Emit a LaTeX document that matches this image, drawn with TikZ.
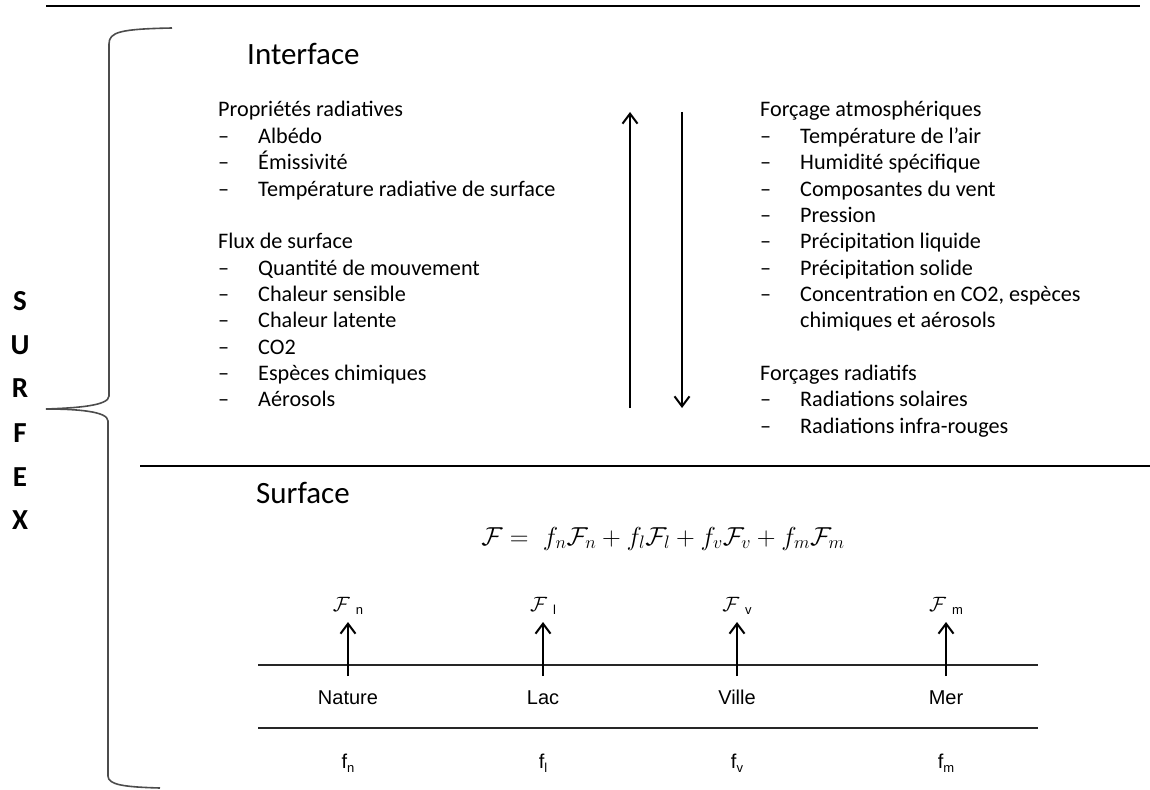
\documentclass[tikz,border=0pt]{standalone}
\usepackage{fontspec}
\setmainfont{Carlito}
\newfontfamily\narrowfont{Liberation Sans}
\usetikzlibrary{arrows.meta}
\newcommand\subsz{\narrowfont\fontsize{13}{13}\selectfont}
\begin{document}
\begin{tikzpicture}[x=1pt,y=-1pt,
  body/.style={inner sep=0pt, anchor=base west, font=\fontsize{22.2}{26.35}\selectfont},
  titletext/.style={inner sep=0pt, anchor=base west, font=\fontsize{31}{36}\selectfont},
  letter/.style={inner sep=0pt, anchor=base, font=\fontsize{29}{30}\selectfont\bfseries},
  flow/.style={line width=2pt, -{Straight Barb[length=10pt,width=15pt]}},
  surf/.style={inner sep=0pt, anchor=base, font=\narrowfont\fontsize{20}{24}\selectfont},
  fnode/.style={inner sep=0pt, anchor=base, font=\fontsize{20}{24}\selectfont},
  heavyrule/.style={line width=2.6pt},
  midrule/.style={line width=2pt},
  thinrule/.style={line width=1.4pt, black!85},
  bracestyle/.style={line width=1.6pt, black!70}]
\useasboundingbox (0,0) rectangle (1150,789);

% rules
\coordinate (topL) at (46,6); \coordinate (topR) at (1140,6);
\draw[heavyrule] (topL) -- (topR);
\coordinate (sepL) at (140,466); \coordinate (sepR) at (1150,466);
\draw[midrule] (sepL) -- (sepR);
\coordinate (l1L) at (258,665); \coordinate (l1R) at (1038,665);
\coordinate (l2L) at (258,728); \coordinate (l2R) at (1038,728);
\draw[thinrule] (l1L) -- (l1R);
\draw[thinrule] (l2L) -- (l2R);

% brace
\draw[bracestyle] (172,28) .. controls (120,29) and (109,32) .. (109,44)
  -- (109,396) .. controls (109,406) and (75,408) .. (46,409);
\draw[bracestyle] (46,409) .. controls (75,409) and (108,411) .. (108,421)
  -- (108,776) .. controls (108,785) and (125,787) .. (160,788);

% SURFEX
\node[letter] (lS) at (20,310) {S};
\node[letter] (lU) at (20,354) {U};
\node[letter] (lR) at (20,397) {R};
\node[letter] (lF) at (20,442) {F};
\node[letter] (lE) at (20,486) {E};
\node[letter] (lX) at (20,529) {X};

% titles
\node[titletext] (interface) at (247,65) {Interface};
\node[titletext] (surface) at (256,503) {Surface};

% left column
\node[body] (leftcol) at (218,117) {\begin{tabular}[t]{@{}p{40pt}@{}l@{}}
\multicolumn{2}{@{}l@{}}{Propriétés radiatives}\\
– & Albédo\\
– & Émissivité\\
– & Température radiative de surface\\
 & \\
\multicolumn{2}{@{}l@{}}{Flux de surface}\\
– & Quantité de mouvement\\
– & Chaleur sensible\\
– & Chaleur latente\\
– & CO2\\
– & Espèces chimiques\\
– & Aérosols
\end{tabular}};

% right column
\node[body] (rightcol) at (760,117) {\begin{tabular}[t]{@{}p{40pt}@{}l@{}}
\multicolumn{2}{@{}l@{}}{Forçage atmosphériques}\\
– & Température de l’air\\
– & Humidité spécifique\\
– & Composantes du vent\\
– & Pression\\
– & Précipitation liquide\\
– & Précipitation solide\\
– & Concentration en CO2, espèces\\
 & chimiques et aérosols\\
 & \\
\multicolumn{2}{@{}l@{}}{Forçages radiatifs}\\
– & Radiations solaires\\
– & Radiations infra-rouges
\end{tabular}};

% exchange arrows
\coordinate (upB) at (630,408); \coordinate (upT) at (630,112);
\coordinate (dnT) at (682,112); \coordinate (dnB) at (682,408);
\draw[flow] (upB) -- (upT);
\draw[flow] (dnT) -- (dnB);

% formula
\node[inner sep=0pt, anchor=base, scale=1.045, transform shape, font=\fontsize{24}{28}\selectfont] (eq) at (663,545)
  {$\mathcal{F} =\; f_n\mathcal{F}_n + f_l\mathcal{F}_l + f_v\mathcal{F}_v + f_m\mathcal{F}_m$};

% tiles
\foreach \x/\s/\lab [count=\i] in {348/n/Nature,543/l/Lac,737/v/Ville,946/m/Mer} {
  \node[surf] (lab\i) at (\x,704) {\lab};
  \node[fnode] (F\i) at (\x,611) {$\mathcal{F}$\hspace{6pt}\raisebox{-3pt}{\subsz \s}};
  \node[surf] (f\i) at (\x,768) {f\raisebox{-4pt}{\subsz \s}};
  \coordinate (b\i) at (\x,676);
  \coordinate (t\i) at (\x,622);
  \draw[flow] (b\i) -- (t\i);
}
\end{tikzpicture}
\end{document}
